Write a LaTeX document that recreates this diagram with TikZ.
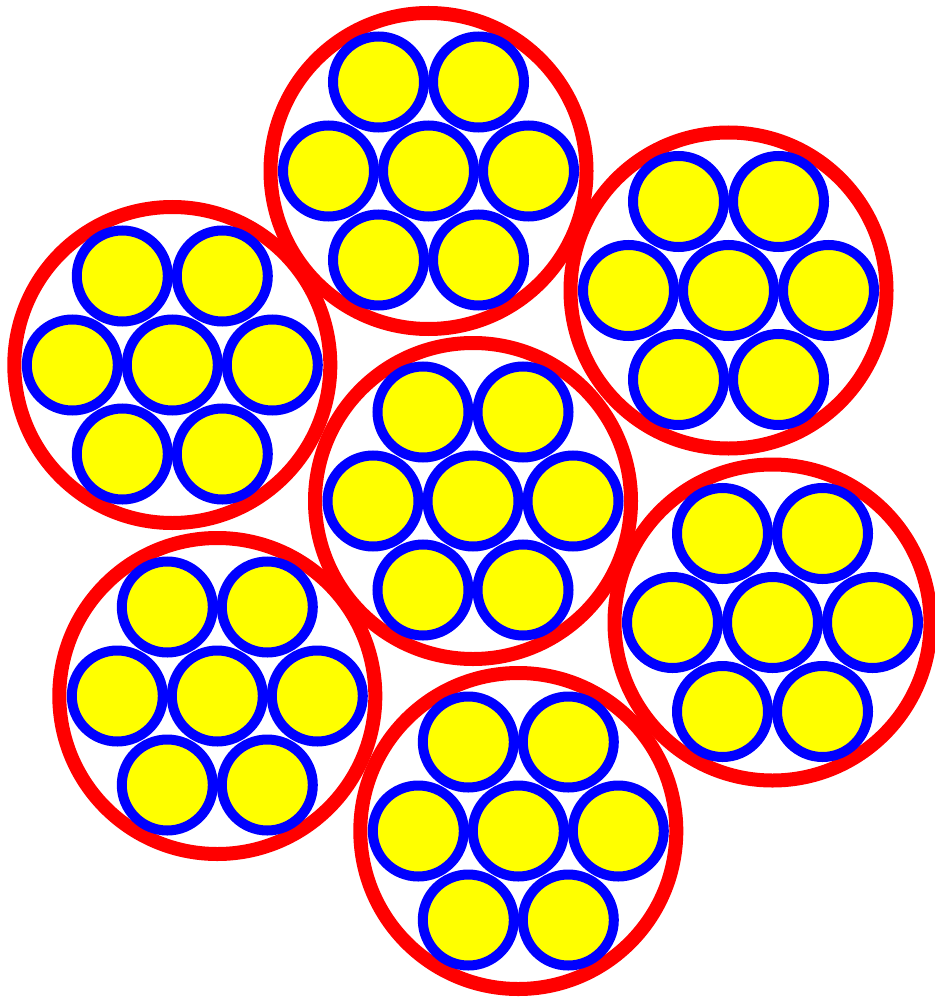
\documentclass[tikz,border=0pt]{standalone}
\definecolor{ropered}{RGB}{255,0,0}
\definecolor{wireblue}{RGB}{0,0,255}
\definecolor{wireyellow}{RGB}{255,255,0}
\begin{document}
\begin{tikzpicture}[x=1pt,y=-1pt,
  rope/.style={draw=ropered,line width=14pt},
  wire/.style={draw=wireblue,fill=wireyellow,line width=10pt}]
\useasboundingbox (0,0) rectangle (934,1003);
\foreach \n/\cx/\cy in {c/473/501, t/428.5/171, ur/728.5/290.5, ul/172.3/365, lr/772.5/622.5, ll/217.3/696, b/518.3/831} {
  \begin{scope}[shift={(\cx,\cy)}]
    \coordinate (\n) at (0,0);
    \draw[rope] (\n) circle[radius=158pt];
    \foreach \dx/\dy in {-50/-89,50/-89,-100/0,0/0,100/0,-50/89,50/89}
      \draw[wire] (\dx,\dy) circle[radius=45.5pt];
  \end{scope}
}
\end{tikzpicture}
\end{document}
